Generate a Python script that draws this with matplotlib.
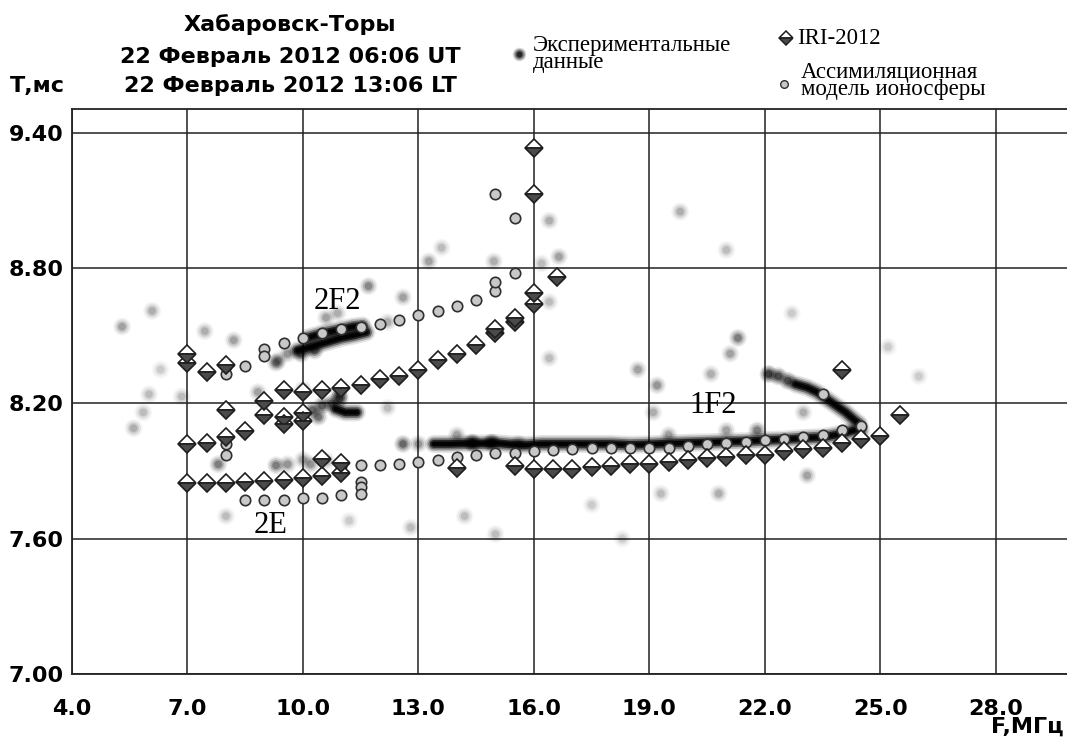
import matplotlib
matplotlib.use("Agg")
import matplotlib.pyplot as plt
from matplotlib.lines import Line2D
import numpy as np

# ================================
# Data
# ================================
# IRI-2012 (diamonds)
iri_f = [7.0, 7.0, 7.0, 7.0,
         7.5, 7.5, 7.5,
         8.0, 8.0, 8.0, 8.0,
         8.5, 8.5,
         9.0, 9.0, 9.0,
         9.5, 9.5, 9.5, 9.5,
         10.0, 10.0, 10.0, 10.0,
         10.5, 10.5, 10.5,
         11.0, 11.0, 11.0,
         11.5, 12.0, 12.5, 13.0, 13.5, 14.0, 14.0, 14.5,
         15.0, 15.0, 15.5, 15.5, 15.5,
         16.0, 16.0, 16.0, 16.0, 16.0, 16.6,
         16.5, 17.0, 17.5, 18.0, 18.5, 19.0, 19.5, 20.0, 20.5,
         21.0, 21.5, 22.0, 22.5, 23.0, 23.5, 24.0, 24.5, 25.0,
         24.0, 25.5]
iri_t = [8.42, 8.38, 8.02, 7.845,
         8.34, 8.025, 7.845,
         8.37, 8.17, 8.05, 7.848,
         8.076, 7.85,
         8.21, 8.15, 7.855,
         8.26, 8.14, 8.11, 7.86,
         8.25, 8.155, 8.12, 7.87,
         8.26, 7.955, 7.88,
         8.27, 7.935, 7.89,
         8.28, 8.31, 8.32, 8.35, 8.39, 8.42, 7.915, 8.46,
         8.51, 8.53, 8.56, 8.58, 7.92,
         8.64, 8.69, 9.13, 9.33, 7.911, 8.76,
         7.911, 7.911, 7.916, 7.92, 7.929, 7.929, 7.938, 7.947, 7.956,
         7.96, 7.969, 7.973, 7.987, 7.996, 8.004, 8.022, 8.044, 8.053,
         8.35, 8.147]

# Assimilation model (grey circles)
asm_f = [8.0, 8.0, 8.0, 8.0,
         8.5, 8.5,
         9.0, 9.0, 9.0,
         9.5, 9.5,
         10.0, 10.0,
         10.5, 10.5,
         11.0, 11.0, 11.0,
         11.5, 11.5, 11.5, 11.5, 11.5,
         12.0, 12.0, 12.5, 12.5, 13.0, 13.0, 13.5, 13.5,
         14.0, 14.0, 14.5, 14.5, 15.0, 15.0, 15.0, 15.0,
         15.5, 15.5, 15.5, 16.0, 16.5, 17.0, 17.5, 18.0,
         18.5, 19.0, 19.5, 20.0, 20.5, 21.0, 21.5, 22.0, 22.5,
         23.0, 23.5, 24.0, 24.5, 23.5]
asm_t = [8.365, 8.33, 8.02, 7.97,
         8.365, 7.773,
         8.44, 8.41, 7.773,
         8.467, 7.773,
         8.49, 7.78,
         8.51, 7.782,
         8.53, 7.92, 7.795,
         8.54, 7.925, 7.85, 7.83, 7.80,
         8.55, 7.925, 8.57, 7.929, 8.59, 7.938, 8.61, 7.947,
         8.63, 7.96, 8.66, 7.969, 8.70, 8.74, 9.13, 7.978,
         8.78, 9.02, 7.982, 7.987, 7.991, 7.996, 8.0, 8.0,
         8.0, 8.004, 8.004, 8.013, 8.018, 8.022, 8.027, 8.036, 8.044,
         8.049, 8.058, 8.08, 8.098, 8.24]

# Experimental data: dense traces
f_1f2 = [13.4, 13.8, 14.2, 14.6, 15.0, 15.4, 15.8, 16.2, 16.6, 17.0, 17.5, 18.0,
         18.5, 19.0, 19.5, 20.0, 20.5, 21.0, 21.5, 22.0, 22.5, 23.0, 23.5, 24.0, 24.3]
t_1f2 = [8.02, 8.02, 8.022, 8.022, 8.024, 8.018, 8.015, 8.02, 8.02, 8.02, 8.02, 8.02,
         8.016, 8.018, 8.022, 8.025, 8.027, 8.03, 8.032, 8.037, 8.04, 8.046, 8.05, 8.065, 8.08]
f_branch = [22.8, 23.1, 23.35, 23.6, 23.85, 24.1, 24.3, 24.45, 24.5]
t_branch = [8.285, 8.27, 8.25, 8.22, 8.19, 8.16, 8.13, 8.11, 8.08]
f_2f2_low = [9.85, 10.2, 10.6, 11.0, 11.3, 11.65]
t_2f2_low = [8.435, 8.45, 8.47, 8.49, 8.50, 8.515]
f_2f2_up = [10.1, 10.5, 10.9, 11.3, 11.55]
t_2f2_up = [8.49, 8.51, 8.525, 8.54, 8.545]
f_2f2_mid = [10.85, 11.1, 11.4]
t_2f2_mid = [8.175, 8.16, 8.16]

# Experimental data: separate spots, w = darkness
spot_f = [9.95, 10.3, 9.3, 9.6, 10.6, 10.9,
          10.25, 10.5, 10.75, 10.95, 10.4, 10.0, 10.95,
          22.1, 22.35, 22.6, 21.8, 14.4, 14.9, 15.6,
          7.8, 9.3, 9.6, 10.2, 10.6, 10.0,
          12.6, 13.0,
          5.3, 6.08, 6.0, 5.85, 5.6, 6.85, 7.45, 11.7, 12.6, 12.2, 12.2, 8.83, 9.35,
          13.27, 13.6, 14.96, 16.4, 16.65, 16.2, 16.4, 16.4, 18.7, 19.2, 21.3, 21.1,
          20.6, 19.1, 19.5, 21.0, 23.1, 20.8, 19.3, 23.0, 19.8, 21.0, 12.8,
          14.2, 14.0, 17.5, 18.3, 8.2, 8.0, 6.3, 25.2, 26.0, 22.7, 15.0, 11.2]
spot_t = [8.42, 8.435, 8.38, 8.42, 8.58, 8.60,
          8.17, 8.19, 8.20, 8.22, 8.14, 8.26, 8.24,
          8.33, 8.32, 8.30, 8.08, 8.025, 8.025, 8.02,
          7.93, 7.925, 7.93, 7.93, 7.945, 7.95,
          8.02, 8.02,
          8.54, 8.61, 8.24, 8.16, 8.09, 8.23, 8.52, 8.72, 8.67, 8.56, 8.18, 8.25, 8.39,
          8.83, 8.89, 8.83, 9.01, 8.85, 8.82, 8.65, 8.40, 8.35, 8.28, 8.49, 8.42,
          8.33, 8.16, 8.06, 8.08, 7.88, 7.80, 7.80, 8.16, 9.05, 8.88, 7.65,
          7.70, 8.06, 7.75, 7.60, 8.48, 7.70, 8.35, 8.45, 8.32, 8.60, 7.62, 7.68]
spot_w = [0.6, 0.6, 0.45, 0.35, 0.3, 0.25,
          0.55, 0.6, 0.6, 0.7, 0.5, 0.35, 0.6,
          0.8, 0.7, 0.7, 0.45, 1, 1, 0.4,
          0.45, 0.45, 0.35, 0.35, 0.3, 0.3,
          0.55, 0.35,
          0.3, 0.25, 0.2, 0.2, 0.25, 0.2, 0.25, 0.4, 0.3, 0.25, 0.2, 0.3, 0.35,
          0.3, 0.2, 0.25, 0.25, 0.3, 0.2, 0.2, 0.2, 0.3, 0.35, 0.45, 0.3,
          0.25, 0.25, 0.3, 0.3, 0.3, 0.25, 0.2, 0.25, 0.25, 0.2, 0.2,
          0.2, 0.3, 0.15, 0.15, 0.3, 0.2, 0.15, 0.15, 0.15, 0.15, 0.2, 0.15]

x_ticks = [4.0, 7.0, 10.0, 13.0, 16.0, 19.0, 22.0, 25.0, 28.0]
y_ticks = [7.00, 7.60, 8.20, 8.80, 9.40]

title_lines = ["Хабаровск-Торы", "22 Февраль 2012 06:06 UT", "22 Февраль 2012 13:06 LT"]

# soft look: stacked layers, wide/faint to narrow/dark
blob_layers = [(170, 0.15), (115, 0.25), (65, 0.4), (30, 0.6)]
trace_layers = [(13, 0.1), (10.5, 0.2), (8, 0.4), (5.5, 0.7), (3, 0.9)]

# ================================
# Figure
# ================================
fig = plt.figure(figsize=(10.67, 7.42), dpi=100)
ax = fig.add_axes([0.0675, 1 - 674 / 742, 0.9325, (674 - 109) / 742])
ax.set_xlim(4.0, 29.85)
ax.set_ylim(7.0, 9.505)

ax.set_xticks(x_ticks)
ax.set_xticklabels([f"{v:.1f}" for v in x_ticks])
ax.set_yticks(y_ticks)
ax.set_yticklabels([f"{v:.2f}" for v in y_ticks])
ax.tick_params(axis='both', length=0, labelsize=16)
ax.tick_params(axis='x', pad=18)
ax.tick_params(axis='y', pad=6)
for lab in ax.get_xticklabels() + ax.get_yticklabels():
    lab.set_fontweight('bold')

ax.grid(True, color='#222222', linewidth=1.1)
ax.set_axisbelow(True)
ax.spines['right'].set_visible(False)
for s in ['left', 'top', 'bottom']:
    ax.spines[s].set_linewidth(1.3)
    ax.spines[s].set_color('#222222')

# experimental spots
w = np.array(spot_w)
for size, a in blob_layers:
    cols = np.zeros((len(w), 4))
    cols[:, 3] = np.clip(a * w, 0, 1)
    ax.scatter(spot_f, spot_t, s=size, c=cols, edgecolors='none', zorder=2)

# experimental traces
traces = [(f_1f2, t_1f2), (f_branch, t_branch), (f_2f2_low, t_2f2_low),
          (f_2f2_up, t_2f2_up), (f_2f2_mid, t_2f2_mid)]
for ff, tt in traces:
    for lw, a in trace_layers:
        ax.plot(ff, tt, color='black', alpha=a, lw=lw, solid_capstyle='round',
                solid_joinstyle='round', zorder=2)

# model points
ax.plot(asm_f, asm_t, ls='none', marker='o', ms=7.5, mfc='#c8c8c8',
        mec='#303030', mew=1.2, zorder=3)
ax.plot(iri_f, iri_t, ls='none', marker='D', ms=9.5, fillstyle='top',
        mfc='white', markerfacecoloralt='#4a4a4a', mec='#1e1e1e', mew=1.2, zorder=4)

# layer labels
serif = ['Liberation Serif', 'DejaVu Serif']
ax.text(10.9, 8.65, "2F2", fontsize=22, family=serif, ha='center', va='center', zorder=5)
ax.text(9.15, 7.66, "2E", fontsize=22, family=serif, ha='center', va='center', zorder=5)
ax.text(20.65, 8.19, "1F2", fontsize=22, family=serif, ha='center', va='center', zorder=5)

# title block
for txt, yy in zip(title_lines, [25, 57, 86]):
    fig.text(290 / 1067, 1 - yy / 742, txt, fontsize=16, fontweight='bold',
             ha='center', va='center')
fig.text(10 / 1067, 1 - 86 / 742, "Т,мс", fontsize=16, fontweight='bold',
         ha='left', va='center')
fig.text(1064 / 1067, 1 - 727 / 742, "F,МГц", fontsize=16, fontweight='bold',
         ha='right', va='center')

# legend (drawn by hand)
for size, a in blob_layers:
    fig.add_artist(Line2D([519 / 1067], [1 - 54 / 742], transform=fig.transFigure,
                          ls='none', marker='o', ms=np.sqrt(size) * 0.75,
                          mfc=(0, 0, 0, a), mec='none'))
fig.text(533 / 1067, 1 - 54 / 742, "Экспериментальные\nданные", fontsize=16.5,
         family=serif, ha='left', va='center', linespacing=0.8)
fig.add_artist(Line2D([786 / 1067], [1 - 38 / 742], transform=fig.transFigure,
                      ls='none', marker='D', ms=7, fillstyle='top', mfc='white',
                      markerfacecoloralt='#4a4a4a', mec='#1e1e1e', mew=1.1))
fig.text(797 / 1067, 1 - 38 / 742, "IRI-2012", fontsize=16.5, family=serif,
         ha='left', va='center')
fig.add_artist(Line2D([784 / 1067], [1 - 84 / 742], transform=fig.transFigure,
                      ls='none', marker='o', ms=5.5, mfc='#c8c8c8', mec='#303030',
                      mew=1.0))
fig.text(801 / 1067, 1 - 81 / 742, "Ассимиляционная\nмодель ионосферы", fontsize=16.5,
         family=serif, ha='left', va='center', linespacing=0.8)

fig.savefig("out.png", dpi=100)
